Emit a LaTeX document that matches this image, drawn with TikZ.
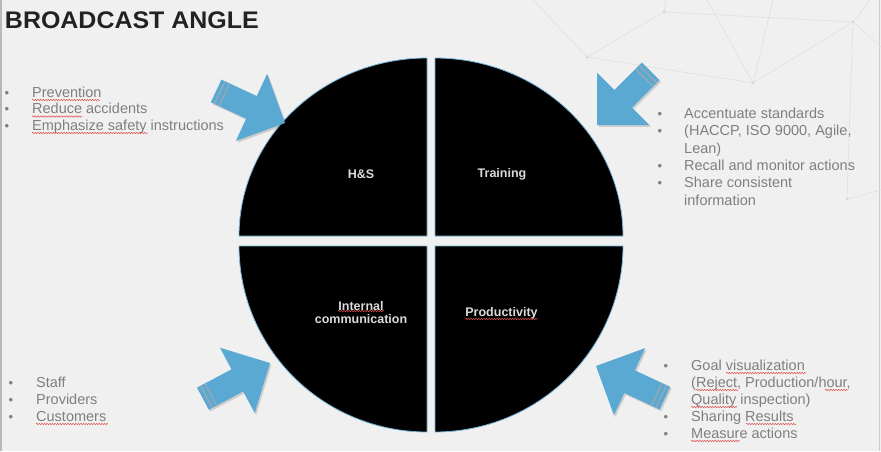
\documentclass[tikz,border=0pt]{standalone}
\usepackage{fontspec}
\setmainfont{Liberation Sans}
\usetikzlibrary{decorations.pathmorphing}
\definecolor{bg}{HTML}{F0F0F0}
\definecolor{arrowblue}{HTML}{5AA9D3}
\definecolor{txtgray}{HTML}{7F7F7F}
\definecolor{netgray}{HTML}{E0E0E0}
\definecolor{rimblue}{HTML}{74B6DB}
\definecolor{stripegray}{HTML}{9DA7AE}
\definecolor{lbl}{HTML}{DADADA}
\definecolor{squig}{HTML}{E05050}
\definecolor{titlecol}{HTML}{222222}
\tikzset{
 listtext/.style={anchor=base west, inner sep=0pt, text=txtgray, font=\fontsize{14.5}{17}\selectfont},
 bulletmark/.style={anchor=base, inner sep=0pt, text=txtgray, font=\fontsize{13}{15}\selectfont},
 quadrant/.style={fill=black, draw=rimblue, line width=0.8pt},
 qlabel/.style={text=lbl, font=\fontsize{12.5}{14.5}\selectfont\bfseries, align=center, inner sep=0pt},
 squiggle/.style={draw=squig, line width=0.5pt, decorate, decoration={snake, amplitude=0.7pt, segment length=2.6pt}},
 netline/.style={draw=netgray, line width=0.6pt},
 netdot/.style={fill=gray!30, draw=none},
}
\newcommand\blockarrow[3]{%
 \begin{scope}[shift={(#1+1.5,#2+1.8)}, rotate=#3]
   \fill[black, opacity=0.15] (0,0) -- (-37,37) -- (-37,12.5) -- (-76,12.5) -- (-76,-12.5) -- (-37,-12.5) -- (-37,-37) -- cycle;
 \end{scope}
 \begin{scope}[shift={(#1,#2)}, rotate=#3]
   \fill[arrowblue] (0,0) -- (-37,37) -- (-37,12.5) -- (-76,12.5) -- (-76,-12.5) -- (-37,-12.5) -- (-37,-37) -- cycle;
   \draw[stripegray, line width=1.2pt] (-72,12.5) -- (-72,-12.5);
   \draw[stripegray, line width=1.2pt] (-67,12.5) -- (-67,-12.5);
 \end{scope}}
\begin{document}
\begin{tikzpicture}[x=1pt,y=-1pt]
\useasboundingbox (0,0) rectangle (881,451);
\fill[bg] (0,0) rectangle (881,451);
\draw[gray!55, line width=1.6pt] (0.8,0) -- (0.8,451);
\draw[gray!40, line width=1pt] (879.5,0) -- (879.5,451);
% background network
\path[netline] (533,0) -- (587,57) -- (664,12) -- (853,22) -- (753,83) -- (587,57);
\path[netline] (707,0) -- (753,83) -- (773,0);
\path[netline] (664,12) -- (666,0);
\path[netline] (853,22) -- (881,47);
\path[netline] (853,22) -- (847,199) -- (881,190);
\path[netline] (853,22) -- (870,0);
\foreach \p in {(587,57),(664,12),(853,22),(753,83),(847,199)} \fill[netdot] \p circle (1.6);
% title
\node[anchor=base west, inner sep=0pt, text=titlecol, font=\fontsize{24}{28}\selectfont\bfseries] (title) at (4.8,28) {\scalebox{1.04}[1]{BROADCAST ANGLE}};
% quadrants
\path[quadrant] (427,236) -- plot[domain=0:90, samples=60] ({427-188*cos(\x)},{236-178*sin(\x)}) -- cycle;
\path[quadrant] (435,236) -- plot[domain=0:90, samples=60] ({435+188*cos(\x)},{236-178*sin(\x)}) -- cycle;
\path[quadrant] (427,246) -- plot[domain=0:90, samples=60] ({427-188*cos(\x)},{246+186*sin(\x)}) -- cycle;
\path[quadrant] (435,246) -- plot[domain=0:90, samples=60] ({435+188*cos(\x)},{246+186*sin(\x)}) -- cycle;
\node[qlabel] (hs) at (361,174) {H\&S};
\node[qlabel] (training) at (502,174) {Training};
\node[qlabel] (internal) at (361,312.5) {Internal\\[-1.5pt]communication};
\node[qlabel] (productivity) at (501.5,313) {Productivity};
\draw[squiggle] (338,311) -- (384,311);
\draw[squiggle] (465,319) -- (538,319);
% arrows
\blockarrow{285}{123}{-25}
\blockarrow{597}{125}{-135}
\blockarrow{270}{363}{28}
\blockarrow{596}{366}{155}
% top-left list
\node[bulletmark] (b1) at (7,97) {•};
\node[bulletmark] (b2) at (7,113.5) {•};
\node[bulletmark] (b3) at (7,130) {•};
\node[listtext] (t1) at (32,97) {Prevention};
\node[listtext] (t2) at (32,113.5) {Reduce accidents};
\node[listtext] (t3) at (32,130) {Emphasize safety instructions};
\draw[squiggle] (32,100) -- (100,100);
\draw[squiggle] (32,116.5) -- (82,116.5);
\draw[squiggle] (32,133) -- (148,133);
% top-right list
\node[bulletmark] (c1) at (660,118) {•};
\node[bulletmark] (c2) at (660,135.5) {•};
\node[bulletmark] (c4) at (660,170) {•};
\node[bulletmark] (c5) at (660,187.5) {•};
\node[listtext] (u1) at (684,118) {Accentuate standards};
\node[listtext] (u2) at (684,135.5) {(HACCP, ISO 9000, Agile,};
\node[listtext] (u3) at (684,153) {Lean)};
\node[listtext] (u4) at (684,170) {Recall and monitor actions};
\node[listtext] (u5) at (684,187.5) {Share consistent};
\node[listtext] (u6) at (684,205) {information};
% bottom-left list
\node[bulletmark] (d1) at (11,387) {•};
\node[bulletmark] (d2) at (11,404) {•};
\node[bulletmark] (d3) at (11,421) {•};
\node[listtext] (v1) at (36,387) {Staff};
\node[listtext] (v2) at (36,404) {Providers};
\node[listtext] (v3) at (36,421) {Customers};
\draw[squiggle] (36,424) -- (108,424);
% bottom-right list
\node[bulletmark] (e1) at (666,370) {•};
\node[bulletmark] (e4) at (666,421) {•};
\node[bulletmark] (e5) at (666,438) {•};
\node[listtext] (w1) at (691,370) {Goal visualization};
\node[listtext] (w2) at (691,387) {(Reject, Production/hour,};
\node[listtext] (w3) at (691,404) {Quality inspection)};
\node[listtext] (w4) at (691,421) {Sharing Results};
\node[listtext] (w5) at (691,438) {Measure actions};
\draw[squiggle] (726,373) -- (806,373);
\draw[squiggle] (696,390) -- (738,390);
\draw[squiggle] (825,390) -- (848,390);
\draw[squiggle] (691,407) -- (737,407);
\draw[squiggle] (746,424) -- (796,424);
\draw[squiggle] (691,441) -- (740,441);
\end{tikzpicture}
\end{document}
